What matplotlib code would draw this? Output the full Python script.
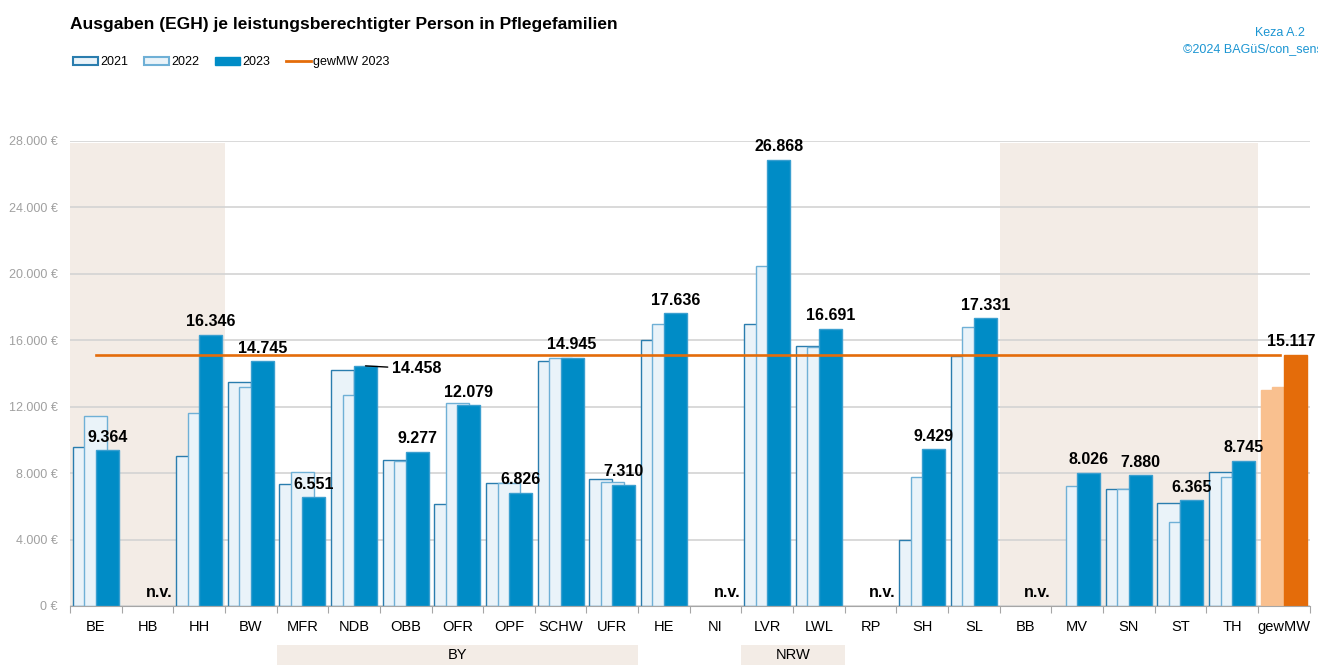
import numpy as np
import matplotlib
matplotlib.use("Agg")
import matplotlib.pyplot as plt
from matplotlib.patches import Rectangle, Patch
from matplotlib.lines import Line2D
from matplotlib.ticker import FuncFormatter

plt.rcParams['font.family'] = ['Liberation Sans', 'DejaVu Sans']

# data (EUR per person)
regions = ['BE', 'HB', 'HH', 'BW', 'MFR', 'NDB', 'OBB', 'OFR', 'OPF', 'SCHW', 'UFR', 'HE', 'NI',
           'LVR', 'LWL', 'RP', 'SH', 'SL', 'BB', 'MV', 'SN', 'ST', 'TH', 'gewMW']
v2021 = [9600, np.nan, 9050, 13460, 7360, 14240, 8810, 6140, 7420, 14750, 7620, 16030, np.nan,
         17000, 15630, np.nan, 3980, 15030, np.nan, np.nan, 7060, 6220, 8050, 13020]
v2022 = [11470, np.nan, 11600, 13160, 8090, 12730, 8750, 12200, 7400, 14950, 7440, 16960, np.nan,
         20500, 15570, np.nan, 7740, 16820, np.nan, 7200, 7060, 5070, 7790, 13200]
v2023 = [9364, np.nan, 16346, 14745, 6551, 14458, 9277, 12079, 6826, 14945, 7310, 17636, np.nan,
         26868, 16691, np.nan, 9429, 17331, np.nan, 8026, 7880, 6365, 8745, 15117]
mean_2023 = 15117

shaded_groups = [('BE', 'HH'), ('BB', 'TH')]
sub_groups = [('BY', 'MFR', 'UFR'), ('NRW', 'LVR', 'LWL')]

light_fill = '#EAF3F9'
edge_2021 = '#2A7DAE'
edge_2022 = '#6FB0D6'
blue_2023 = '#008CC6'
orange = '#E46C0A'
orange_light = '#F9C08F'
beige = '#F3ECE6'
grid_col = '#D3D3D3'

fig = plt.figure(figsize=(13.18, 6.65), dpi=100)
ax = fig.add_axes([70 / 1318, 59 / 665, 1239.5 / 1318, 465 / 665])

x = np.arange(len(regions))
w = 0.444
last = len(regions) - 1

c21 = [light_fill] * last + [orange_light]
c22 = [light_fill] * last + [orange_light]
c23 = [blue_2023] * last + [orange]
e21 = [edge_2021] * last + [orange_light]
e22 = [edge_2022] * last + [orange_light]
e23 = ['#3A9FD0'] * last + [orange]

ax.bar(x - w / 2, v2021, w, color=c21, edgecolor=e21, linewidth=1, zorder=3)
ax.bar(x, v2022, w, color=c22, edgecolor=e22, linewidth=1, zorder=4)
ax.bar(x + w / 2, v2023, w, color=c23, edgecolor=e23, linewidth=1, zorder=5)

# shaded background blocks
for a, b in shaded_groups:
    i0, i1 = regions.index(a), regions.index(b)
    ax.add_patch(Rectangle((i0 - 0.5, 0), i1 - i0 + 1, 27900, color=beige, zorder=0, lw=0))

# weighted mean line
ax.plot([0, last - 0.08], [mean_2023, mean_2023], color=orange, lw=1.9, zorder=6)

# value labels
lab_kw = dict(textcoords='offset points', fontsize=11.5, fontweight='bold', zorder=7,
              annotation_clip=False)
for i, v in enumerate(v2023):
    if np.isnan(v):
        ax.annotate('n.v.', (i + w / 2, 0), xytext=(0, 4), ha='center', va='bottom', **lab_kw)
        continue
    txt = f'{int(v):,}'.replace(',', '.')
    if regions[i] == 'NDB':
        ax.annotate(txt, (i + w / 2, v), xytext=(19, -2), ha='left', va='center',
                    arrowprops=dict(arrowstyle='-', color='black', lw=1, shrinkA=1, shrinkB=0),
                    **lab_kw)
    elif regions[i] == 'gewMW':
        ax.annotate(txt, (i + w / 2, v), xytext=(-3, 4), ha='center', va='bottom', **lab_kw)
    else:
        ax.annotate(txt, (i + w / 2, v), xytext=(0, 4), ha='center', va='bottom', **lab_kw)

# sub group boxes below axis
for name, a, b in sub_groups:
    i0, i1 = regions.index(a), regions.index(b)
    ax.add_patch(Rectangle((i0 - 0.5, -0.16), i1 - i0 + 1, 0.076, transform=ax.get_xaxis_transform(),
                           color=beige, lw=0, clip_on=False))
    ax.text((i0 + i1) / 2, -0.105, name, transform=ax.get_xaxis_transform(),
            ha='center', va='center', fontsize=10.5)

ax.set_xlim(-0.5, len(regions) - 0.5)
ax.set_ylim(0, 28000)
ax.set_yticks(np.arange(0, 28001, 4000))
ax.yaxis.set_major_formatter(FuncFormatter(lambda v, p: f'{int(v):,} €'.replace(',', '.')))
ax.grid(axis='y', color=grid_col, lw=1.2, zorder=1)
ax.set_axisbelow(False)
for gl in ax.get_ygridlines():
    gl.set_zorder(1)

ax.set_xticks(np.arange(-0.5, len(regions)), labels=[''] * (len(regions) + 1))
ax.set_xticks(x, labels=regions, minor=True)
ax.tick_params(axis='x', which='major', length=5, color='#A6A6A6')
ax.tick_params(axis='x', which='minor', length=0, pad=10, labelsize=10.5)
ax.tick_params(axis='y', length=0, pad=9, labelsize=9, labelcolor='#A0A0A0')
for s in ['top', 'right', 'left']:
    ax.spines[s].set_visible(False)
ax.spines['bottom'].set_color('#A6A6A6')
ax.spines['bottom'].set_zorder(8)

fig.text(70 / 1318, 1 - 25 / 665, 'Ausgaben (EGH) je leistungsberechtigter Person in Pflegefamilien',
         fontsize=12.5, fontweight='bold', va='center', ha='left')
fig.text(1305 / 1318, 1 - 33 / 665, 'Keza A.2', fontsize=9, color='#1B95D2', ha='right', va='center')
fig.text(1183 / 1318, 1 - 49 / 665, '©2024 BAGüS/con_sens', fontsize=9, color='#1B95D2',
         ha='left', va='center')

handles = [Patch(facecolor=light_fill, edgecolor=edge_2021, lw=1.5),
           Patch(facecolor=light_fill, edgecolor=edge_2022, lw=1.5),
           Patch(facecolor=blue_2023, edgecolor=blue_2023),
           Line2D([], [], color=orange, lw=2)]
fig.legend(handles, ['2021', '2022', '2023', 'gewMW 2023'], loc='center left',
           bbox_to_anchor=(73 / 1318, 1 - 62 / 665), ncol=4, frameon=False, fontsize=9,
           handlelength=2.0, handleheight=0.6, handletextpad=0.15, columnspacing=1.3,
           borderpad=0, borderaxespad=0)

fig.savefig('out.png', dpi=100)
